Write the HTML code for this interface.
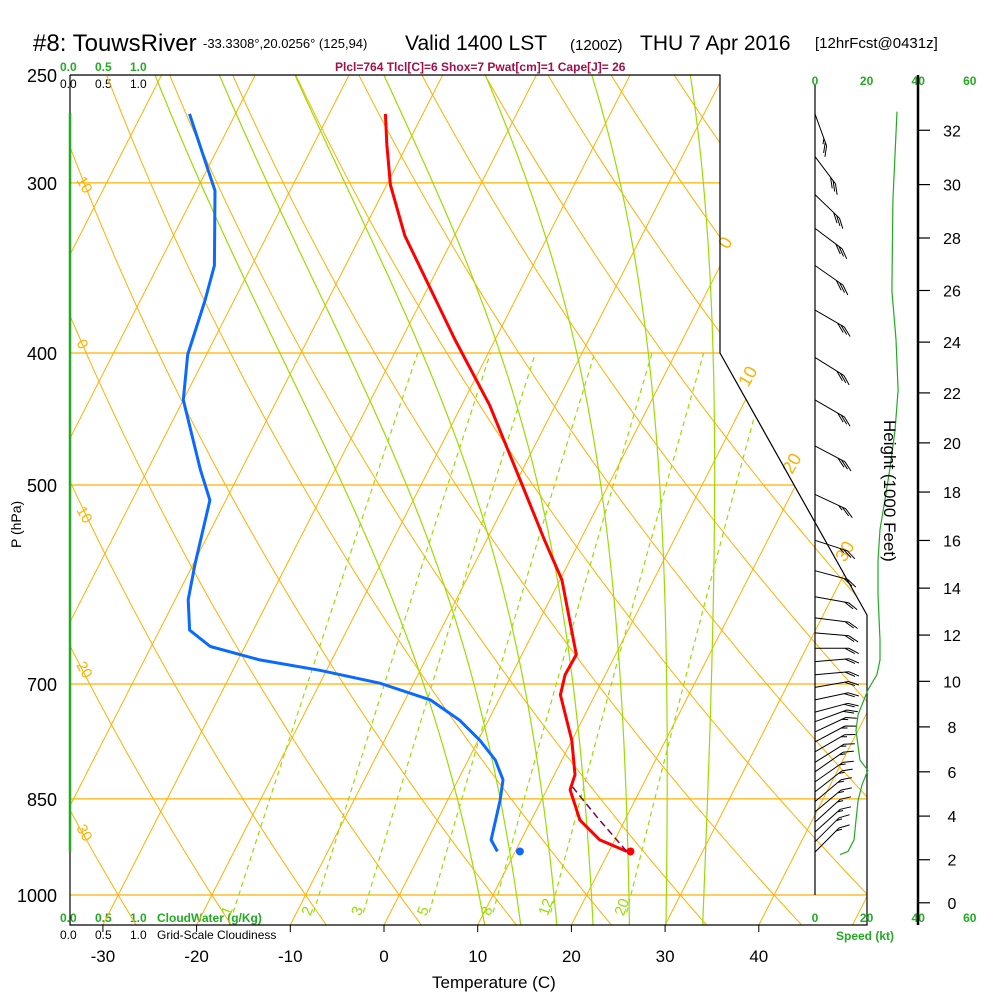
<!DOCTYPE html>
<html><head><meta charset="utf-8"><style>
html,body{margin:0;padding:0;background:#fff;}
svg{display:block;font-family:"Liberation Sans",sans-serif;}
</style></head><body>
<svg id="chart" width="1000" height="1000" viewBox="0 0 1000 1000" xmlns="http://www.w3.org/2000/svg">
<defs><clipPath id="plotclip"><polygon points="70,75 720,75 720,353 867,615 867,925 70,925"/></clipPath></defs>
<g>
<text x="33" y="51" font-size="24">#8: TouwsRiver</text>
<text x="203" y="48" font-size="13">-33.3308°,20.0256° (125,94)</text>
<text x="405" y="50" font-size="21">Valid 1400 LST</text>
<text x="570" y="50" font-size="15">(1200Z)</text>
<text x="640" y="50" font-size="21">THU 7 Apr 2016</text>
<text x="815" y="48" font-size="15">[12hrFcst@0431z]</text>
<text x="335" y="71" font-size="12" font-weight="bold" fill="#a0104a">Plcl=764 Tlcl[C]=6 Shox=7 Pwat[cm]=1 Cape[J]= 26</text>
</g>
<g font-size="12">
<text x="60" y="71" fill="#22aa22" font-weight="bold">0.0</text><text x="95" y="71" fill="#22aa22" font-weight="bold">0.5</text><text x="130" y="71" fill="#22aa22" font-weight="bold">1.0</text>
<text x="60" y="88">0.0</text><text x="95" y="88">0.5</text><text x="130" y="88">1.0</text>
</g>
<g font-size="12">
<text x="60" y="922" fill="#22aa22" font-weight="bold">0.0</text><text x="95" y="922" fill="#22aa22" font-weight="bold">0.5</text><text x="130" y="922" fill="#22aa22" font-weight="bold">1.0</text>
<text x="157" y="922" fill="#22aa22" font-weight="bold">CloudWater (g/Kg)</text>
<text x="60" y="939">0.0</text><text x="95" y="939">0.5</text><text x="130" y="939">1.0</text>
<text x="157" y="939">Grid-Scale Cloudiness</text>
</g>
<g id="bg" clip-path="url(#plotclip)"></g>
<g id="fg"></g>
<text x="432" y="988" font-size="17">Temperature (C)</text>
<text transform="translate(21,548) rotate(-90)" font-size="14">P (hPa)</text>
<text transform="translate(884,420) rotate(90)" font-size="17">Height (1000 Feet)</text>
<text x="836" y="940" font-size="12" font-weight="bold" fill="#22aa22">Speed (kt)</text>
</svg>
<script>
// ---- data ----
const tempP=[929,911,881,837,816,770,713,689,666,628,587,549,500,437,391,328,301,281,267];
const tempT=[21.9,18.4,15.2,12.5,12.2,10.0,6.3,5.7,5.8,3.2,0.2,-3.8,-9.2,-17.0,-24.3,-35.3,-39.6,-42.2,-44.0];
const dewP=[929,911,852,823,796,770,744,719,699,684,672,657,639,607,572,513,487,433,401,366,345,304,289,267];
const dewT=[8.1,6.8,5.6,4.8,2.9,0.2,-3.1,-7.3,-13.6,-20.7,-27.7,-33.7,-36.8,-38.6,-39.8,-41.7,-44.4,-50.0,-52.0,-53.1,-54.0,-58.0,-60.7,-64.9];
const parcelP=[833,878,929];
const parcelT=[12.6,17.0,21.9];
const sfcP=929, sfcT=22.3, sfcTd=10.5;
const pressureTicks=[250,300,400,500,700,850,1000];
const tempTicks=[-30,-20,-10,0,10,20,30,40];
const mixRatios=[1,2,3,5,8,12,20];
const moistStarts=[8.5,12.5,16.5,20.5,24.5,28.5,32.5];
const heightTicks=[0,2,4,6,8,10,12,14,16,18,20,22,24,26,28,30,32];
const speedTicks=[0,20,40,60];
const barbP=[267,287,306,324,345,372,403,433,468,508,549,578,604,626,642,659,674,689,704,719,734,746,759,772,785,799,812,826,840,854,869,884,899,914,930];
const barbDir=[160,143,134,127,125,120,122,120,118,115,108,105,100,97,95,90,85,85,80,78,75,70,65,62,60,58,55,55,52,50,50,48,48,45,45];
const barbSpd=[25,30,30,30,30,30,30,30,30,25,25,20,20,20,20,20,20,20,20,20,20,20,15,15,15,15,15,15,15,15,15,15,15,15,15];
const speedP=[266,309,360,391,426,456,487,513,539,568,602,650,672,689,707,737,757,796,810,830,852,881,911,929,934];
const speedKt=[31.8,30.2,29.8,31.4,32.2,31,29,27.1,25.2,24.4,24.4,25.2,25.2,24,20.5,16.7,15.9,17.4,20.5,18.2,16.7,15.9,15.1,12.8,9.7];

// ---- scales ----
const NS="http://www.w3.org/2000/svg";
function Y(p){return 75+Math.log(p/250)/Math.log(4)*820;}
function X(T,p){return 384+9.37*T+0.51*(925-Y(p));}
function SX(kt){return 815+kt*2.58;}
function mk(tag,attrs,parent){const e=document.createElementNS(NS,tag);for(const k in attrs)e.setAttribute(k,attrs[k]);parent.appendChild(e);return e;}
const bg=document.getElementById('bg'), fg=document.getElementById('fg');
const OR='#ffb000', GR='#99dd00';
function pathFrom(ps,ts){return ps.map((p,i)=>(i?'L':'M')+X(ts[i],p).toFixed(1)+','+Y(p).toFixed(1)).join(' ');}

for(let T=-120;T<=50;T+=10){
  const l=mk('line',{x1:X(T,1052),y1:Y(1052),x2:X(T,150),y2:Y(150),stroke:OR,'stroke-width':1},bg);
  
  
}
for(let th=-50;th<=200;th+=10){
  const ps=[],ts=[];
  for(let p=1060;p>=240;p-=10){ps.push(p);ts.push((th+273.15)*Math.pow(p/1000,0.2857)-273.15);}
  const e=mk('path',{d:pathFrom(ps,ts),fill:'none',stroke:OR,'stroke-width':1},bg);
  
  
}
pressureTicks.forEach(p=>{
  const l=mk('line',{x1:70,x2:900,y1:Y(p),y2:Y(p),stroke:OR,'stroke-width':1.2},bg);
  
  
});
function es(T){return 6.112*Math.exp(17.67*T/(T+243.5));}
function rs(T,p){const e=es(T);return 0.622*e/(p-e);}
function dTdp(T,p){const Tk=T+273.15,r=rs(T,p);return (287*Tk+2.5e6*r)/(p*(1005+2.5e6*2.5e6*r*0.622/(287*Tk*Tk)));}
moistStarts.forEach(T0=>{
  const ps=[],ts=[];let T=T0;
  for(let p=1000;p<1060;p+=2){T+=dTdp(T,p)*2;}
  for(let p=1060;p>=240;p-=2){ps.push(p);ts.push(T);T-=dTdp(T,p)*2;}
  const e=mk('path',{d:pathFrom(ps,ts),fill:'none',stroke:GR,'stroke-width':1.2},bg);
  
  
});
mixRatios.forEach(w=>{
  const ps=[],ts=[];
  for(let p=1030;p>=400;p-=10){const e=w*p/(622+w);ps.push(p);const a=Math.log(e/6.112);ts.push(a*243.5/(17.67-a));}
  const e=mk('path',{d:pathFrom(ps,ts),fill:'none',stroke:GR,'stroke-width':1.2,'stroke-dasharray':'5,4'},bg);
  
  
  const a=Math.log(w*1030/(622+w)/6.112),tl=a*243.5/(17.67-a);
  const t=mk('text',{transform:'translate('+(X(tl,1030)-3)+','+(Y(1030)+4)+') rotate(-70)','font-size':15,fill:GR},fg);
  t.textContent=w;
  
  
});
[['10',76,180],['0',76,343],['10',76,510],['20',76,665],['30',76,828]].forEach(d=>{
  const t=mk('text',{transform:'translate('+d[1]+','+d[2]+') rotate(60)','font-size':15,fill:OR},fg);t.textContent=d[0];
  
  
});
[['0',728,250],['10',748,388],['20',792,475],['30',845,563]].forEach(d=>{
  const t=mk('text',{transform:'translate('+d[1]+','+d[2]+') rotate(-60)','font-size':18,fill:OR},fg);t.textContent=d[0];
  
  
});
const fr=mk('polyline',{points:'70,75 720,75 720,353 867,615 867,925 70,925 70,75',fill:'none',stroke:'#000','stroke-width':1.2},fg);


const cw=mk('line',{x1:70,x2:70,y1:113,y2:852,stroke:'#22aa22','stroke-width':2.5},fg);


pressureTicks.forEach(p=>{
  const t=mk('text',{x:57,y:Y(p)+7,'font-size':18,'text-anchor':'end'},fg);t.textContent=p;
  
  
});
tempTicks.forEach(T=>{
  const x=384+9.37*T;
  const l=mk('line',{x1:x,x2:x,y1:925,y2:932,stroke:'#000'},fg);
  
  
  const t=mk('text',{x:x,y:962,'font-size':17,'text-anchor':'middle'},fg);t.textContent=T;
  
  
});
const tl=mk('path',{d:pathFrom(tempP,tempT),fill:'none',stroke:'#ff0000','stroke-width':3,'stroke-linejoin':'round'},fg);


const dl=mk('path',{d:pathFrom(dewP,dewT),fill:'none',stroke:'#0a6aff','stroke-width':3,'stroke-linejoin':'round'},fg);


const pl=mk('path',{d:pathFrom(parcelP,parcelT),fill:'none',stroke:'#880044','stroke-width':1.5,'stroke-dasharray':'7,4'},fg);


const sd=mk('circle',{cx:X(sfcT,sfcP),cy:Y(sfcP),r:4,fill:'#ff0000'},fg);


const sdd=mk('circle',{cx:X(sfcTd,sfcP),cy:Y(sfcP),r:4,fill:'#0a6aff'},fg);


const bl=mk('line',{x1:815,x2:815,y1:85,y2:895,stroke:'#000','stroke-width':1.2},fg);


speedTicks.forEach(s=>{
  [85,922].forEach(yy=>{
    const t=mk('text',{x:SX(s),y:yy,'font-size':12,'font-weight':'bold',fill:'#22aa22','text-anchor':'middle'},fg);t.textContent=s;
    
    
  });
});
const sp=mk('path',{d:speedP.map((p,i)=>(i?'L':'M')+SX(speedKt[i]).toFixed(1)+','+Y(p).toFixed(1)).join(' '),fill:'none',stroke:'#22aa22','stroke-width':1.2},fg);


barbP.forEach((p,i)=>{
  const b=barbDir[i]*Math.PI/180,sx=Math.sin(b),sy=-Math.cos(b);
  const x0=815,y0=Y(p),L=34,x1=x0+L*sx,y1=y0+L*sy;
  let d='M'+x0+','+y0.toFixed(1)+' L'+x1.toFixed(1)+','+y1.toFixed(1);
  const fa=Math.atan2(sy,sx)+0.5;const fx=Math.cos(fa),fy=Math.sin(fa);
  let s=barbSpd[i],k=0;
  while(s>=10){const px=x1-k*4*sx,py=y1-k*4*sy;d+=' M'+px.toFixed(1)+','+py.toFixed(1)+' l'+(11*fx).toFixed(1)+','+(11*fy).toFixed(1);s-=10;k++;}
  if(s>=5){const px=x1-k*4*sx,py=y1-k*4*sy;d+=' M'+px.toFixed(1)+','+py.toFixed(1)+' l'+(6*fx).toFixed(1)+','+(6*fy).toFixed(1);}
  const e=mk('path',{d:d,fill:'none',stroke:'#000','stroke-width':1},fg);
  
  
});
const ha=mk('line',{x1:918,x2:918,y1:75,y2:925,stroke:'#000','stroke-width':2.5},fg);


heightTicks.forEach(h=>{
  const p=1013.25*Math.pow(1-6.8756e-6*h*1000,5.2559),yy=Y(p);
  const l=mk('line',{x1:918,x2:930,y1:yy,y2:yy,stroke:'#000','stroke-width':1.2},fg);
  
  
  const t=mk('text',{x:952,y:yy+6,'font-size':16,'text-anchor':'middle'},fg);t.textContent=h;
  
  
});
</script>
</body></html>
